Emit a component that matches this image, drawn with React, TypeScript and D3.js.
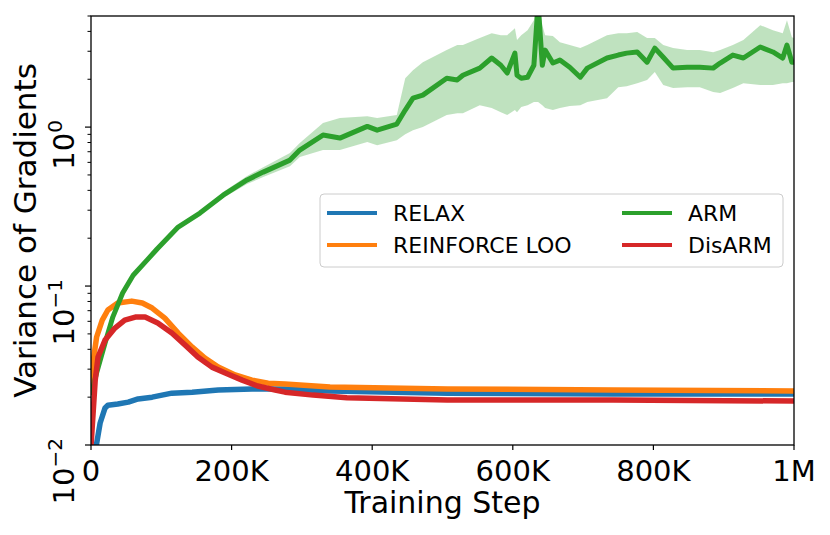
import * as d3 from "d3"

// training steps are in thousands
const armSteps = [0, 8, 20, 31, 45, 60, 80, 94, 124, 155, 188, 222, 245, 283, 297, 330, 354, 393, 407, 435, 447, 458, 472, 506, 521, 529, 553, 570, 583, 592, 603, 606, 612, 621, 630, 636, 642, 646, 657, 667, 681, 696, 706, 734, 750, 762, 777, 791, 802, 814, 828, 848, 866, 885, 895, 913, 928, 952, 970, 984, 990, 997, 1000]
const armMean = [0.0206, 0.0284, 0.0438, 0.0638, 0.0904, 0.117, 0.146, 0.171, 0.235, 0.288, 0.373, 0.465, 0.521, 0.62, 0.717, 0.891, 0.853, 1.01, 0.957, 1.045, 1.28, 1.52, 1.59, 2.03, 1.98, 2.12, 2.35, 2.72, 2.45, 2.19, 2.92, 2.12, 2.03, 2.06, 2.45, 6.0, 2.45, 3.05, 2.53, 2.64, 2.38, 2.06, 2.35, 2.72, 2.84, 2.92, 2.97, 2.56, 3.14, 2.75, 2.35, 2.38, 2.38, 2.35, 2.53, 2.84, 2.72, 3.19, 2.97, 2.72, 3.28, 2.56, 2.56]
const armLower = [0.02, 0.0276, 0.0425, 0.062, 0.0878, 0.1139, 0.1416, 0.166, 0.228, 0.28, 0.358, 0.438, 0.485, 0.568, 0.648, 0.717, 0.717, 0.805, 0.77, 0.828, 0.903, 0.957, 1.0, 1.19, 1.22, 1.22, 1.37, 1.32, 1.24, 1.19, 1.28, 1.24, 1.34, 1.37, 1.44, 1.44, 1.37, 1.32, 1.28, 1.32, 1.36, 1.37, 1.44, 1.52, 1.78, 1.81, 1.89, 1.98, 2.22, 1.84, 1.76, 1.78, 1.78, 1.66, 1.64, 1.76, 1.89, 1.84, 1.84, 1.89, 1.89, 1.92, 1.92]
const armUpper = [0.0212, 0.0292, 0.0451, 0.0657, 0.093, 0.1207, 0.15, 0.176, 0.242, 0.296, 0.39, 0.492, 0.56, 0.686, 0.793, 1.06, 1.14, 1.17, 1.14, 1.19, 2.03, 2.28, 2.56, 3.05, 3.28, 3.28, 3.63, 3.9, 3.79, 3.79, 4.19, 3.53, 3.79, 4.07, 4.71, 6.5, 4.38, 3.79, 3.74, 3.42, 3.28, 3.14, 3.28, 3.79, 3.9, 3.9, 3.96, 3.63, 3.63, 3.28, 3.14, 3.05, 3.05, 2.96, 3.05, 3.28, 3.53, 4.38, 4.07, 3.9, 4.71, 3.68, 3.63]

const looSteps = [0, 3, 8, 16, 24, 38, 58, 73, 87, 105, 124, 144, 162, 181, 205, 229, 252, 276, 340, 507, 743, 1000]
const looValues = [0.0215, 0.0333, 0.0478, 0.0611, 0.0707, 0.0782, 0.0804, 0.0782, 0.0727, 0.0629, 0.0506, 0.0413, 0.0352, 0.0309, 0.0276, 0.0256, 0.0245, 0.0242, 0.0232, 0.0225, 0.0222, 0.0219]

const disarmSteps = [0, 3, 6, 10, 20, 34, 48, 63, 77, 95, 115, 134, 152, 172, 191, 215, 237, 262, 276, 316, 364, 507, 743, 1000]
const disarmValues = [0.0098, 0.0159, 0.0256, 0.0358, 0.0457, 0.0544, 0.0611, 0.0638, 0.0638, 0.0585, 0.0506, 0.0425, 0.0358, 0.0309, 0.0284, 0.0256, 0.0235, 0.0222, 0.0215, 0.0206, 0.0198, 0.0192, 0.0192, 0.0189]

const relaxSteps = [5, 8, 13, 20, 24, 38, 53, 67, 87, 115, 144, 181, 229, 276, 340, 507, 743, 1000]
const relaxValues = [0.0085, 0.0102, 0.01375, 0.0171, 0.0178, 0.0181, 0.0186, 0.0195, 0.02, 0.0212, 0.0215, 0.0222, 0.0225, 0.0225, 0.0219, 0.0212, 0.0209, 0.0209]

const xTicks = [0, 200, 400, 600, 800, 1000]
const xTickLabels = ["0", "200K", "400K", "600K", "800K", "1M"]
const yMajor = [0.01, 0.1, 1]
const yExponents = ["−2", "−1", "0"]

const legendNames = ["RELAX", "REINFORCE LOO", "ARM", "DisARM"]
const colors = ["#1f77b4", "#ff7f0e", "#2ca02c", "#d62728"]

const W = 830
const H = 535
const left = 91
const right = 794
const top = 16
const bottom = 445
const font = "DejaVu Sans, sans-serif"

type Pt = { s: number; v: number }

export default function App() {
  const x = d3.scaleLinear().domain([0, 1000]).range([left, right])
  const y = d3.scaleLog().domain([0.01, 5]).range([bottom, top])

  const line = d3.line<Pt>().x((d) => x(d.s)).y((d) => y(d.v))
  const pts = (s: number[], v: number[]) => s.map((k, i) => ({ s: k, v: v[i] }))

  const band = d3
    .area<number>()
    .x((k) => x(k))
    .y0((_, i) => y(armLower[i]))
    .y1((_, i) => y(armUpper[i]))

  const series = [
    { data: pts(relaxSteps, relaxValues), color: colors[0], w: 5.5 },
    { data: pts(looSteps, looValues), color: colors[1], w: 5.5 },
    { data: pts(armSteps, armMean), color: colors[2], w: 5 },
    { data: pts(disarmSteps, disarmValues), color: colors[3], w: 5.5 },
  ]

  const minor = y.ticks().filter((t) => !yMajor.some((m) => Math.abs(m - t) < 1e-9))

  return (
    <svg width={W} height={H} style={{ position: "absolute", left: 0, top: 0, background: "#fff" }}>
      <defs>
        <clipPath id="plot">
          <rect x={left} y={top} width={right - left} height={bottom - top} />
        </clipPath>
      </defs>

      <g clipPath="url(#plot)">
        <path d={band(armSteps) ?? ""} fill={colors[2]} fillOpacity={0.3} />
        {series.map((s, i) => (
          <path key={i} d={line(s.data) ?? ""} fill="none" stroke={s.color} strokeWidth={s.w} strokeLinejoin="round" />
        ))}
      </g>

      {/* frame */}
      <rect x={left} y={top} width={right - left} height={bottom - top} fill="none" stroke="#000" strokeWidth={1.3} />

      {/* x axis */}
      {xTicks.map((t, i) => (
        <g key={t}>
          <line x1={x(t)} x2={x(t)} y1={bottom} y2={bottom + 5} stroke="#000" strokeWidth={1.2} />
          <text x={x(t)} y={481} textAnchor="middle" fontFamily={font} fontSize={29}>
            {xTickLabels[i]}
          </text>
        </g>
      ))}
      <text x={(left + right) / 2} y={513} textAnchor="middle" fontFamily={font} fontSize={30}>
        Training Step
      </text>

      {/* y axis */}
      {minor.map((t) => (
        <line key={t} x1={left - 3.5} x2={left} y1={y(t)} y2={y(t)} stroke="#000" strokeWidth={1} />
      ))}
      {yMajor.map((t, i) => (
        <g key={t}>
          <line x1={left - 6} x2={left} y1={y(t)} y2={y(t)} stroke="#000" strokeWidth={1.2} />
          <text
            transform={`translate(74,${y(t) - 7}) rotate(-90)`}
            textAnchor="end"
            fontFamily={font}
            fontSize={29}
          >
            10
            <tspan dy={-12} fontSize={20}>
              {yExponents[i]}
            </tspan>
          </text>
        </g>
      ))}
      <text
        transform={`translate(36,${(top + bottom) / 2}) rotate(-90)`}
        textAnchor="middle"
        fontFamily={font}
        fontSize={31}
      >
        Variance of Gradients
      </text>

      {/* legend */}
      <rect x={320} y={194} width={463} height={73} rx={4} fill="#fff" fillOpacity={0.8} stroke="#cccccc" strokeWidth={1} />
      {legendNames.map((name, i) => {
        const col = Math.floor(i / 2)
        const row = i % 2
        const hx = col === 0 ? 327 : 622
        const ly = 213 + row * 32
        return (
          <g key={name}>
            <line x1={hx} x2={hx + 50} y1={ly} y2={ly} stroke={colors[i]} strokeWidth={4} />
            <text x={hx + 66} y={ly + 8} fontFamily={font} fontSize={22}>
              {name}
            </text>
          </g>
        )
      })}
    </svg>
  )
}
